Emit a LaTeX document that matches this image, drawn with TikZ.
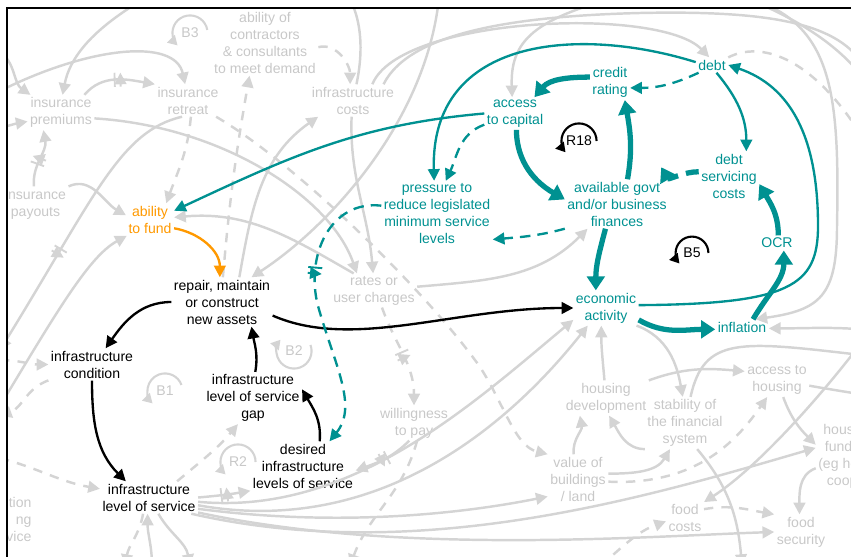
\documentclass[tikz,border=0pt]{standalone}
\usepackage{fontspec}
\setmainfont{Liberation Sans}
\usetikzlibrary{arrows.meta,calc,decorations.markings}

\definecolor{cldteal}{RGB}{0,145,145}
\definecolor{cldorange}{RGB}{255,153,0}
\definecolor{cldgrey}{RGB}{212,212,212}
\definecolor{cldgreytext}{RGB}{200,200,200}

\tikzset{
  every node/.style={font=\fontsize{12}{14.5}\selectfont, align=center, inner sep=2pt},
  var/.style={text=black},
  tvar/.style={text=cldteal},
  fvar/.style={text=cldorange},
  gvar/.style={text=cldgreytext},
  glink/.style={draw=cldgrey, line width=2.1pt, -{Triangle[length=10pt,width=10pt]}},
  gdash/.style={glink, dash pattern=on 8pt off 7pt},
  blink/.style={draw=black, line width=2pt, -{Triangle[length=10pt,width=10pt]}},
  flink/.style={draw=cldorange, line width=2pt, -{Triangle[length=10pt,width=10pt]}},
  tlink/.style={draw=cldteal, line width=2pt, -{Triangle[length=10pt,width=10pt]}},
  tdash/.style={tlink, dash pattern=on 9pt off 6pt},
  tthick/.style={draw=cldteal, line width=4.5pt, -{Triangle[length=12pt,width=15pt]}},
  tthickdash/.style={tthick, dash pattern=on 11pt off 7pt},
  gdelay/.style={postaction={decorate, decoration={markings, mark=at position #1 with
      {\draw[cldgrey, solid, line width=1.6pt] (-2.5pt,-6pt) -- (-2.5pt,6pt) (2.5pt,-6pt) -- (2.5pt,6pt);}}}},
  gdelay/.default=0.5,
  tdelay/.style={postaction={decorate, decoration={markings, mark=at position #1 with
      {\draw[cldteal, solid, line width=1.6pt] (-2.5pt,-6pt) -- (-2.5pt,6pt) (2.5pt,-6pt) -- (2.5pt,6pt);}}}},
  tdelay/.default=0.5,
  bloop/.style={draw=black, line width=1.8pt, -{Triangle[length=8pt,width=9pt]}},
  gloop/.style={draw=cldgrey, line width=1.8pt, -{Triangle[length=8pt,width=9pt]}},
}

\begin{document}
\begin{tikzpicture}[x=0.03cm,y=0.03cm]
\useasboundingbox (0,0) rectangle (851,556);

% free ends off the frame
\coordinate (nw1) at (0,505);
\coordinate (nw2) at (0,465);
\coordinate (w1) at (0,428);
\coordinate (w2) at (0,206);
\coordinate (w3) at (0,150);
\coordinate (w4) at (0,196);
\coordinate (w5) at (0,140);
\coordinate (w6) at (0,98);
\coordinate (n1) at (440,570);
\coordinate (n2) at (640,565);
\coordinate (n3) at (720,565);
\coordinate (n4) at (700,575);
\coordinate (e1) at (870,200);
\coordinate (e2) at (870,226);
\coordinate (e3) at (870,160);
\coordinate (e4) at (870,225);
\coordinate (e5) at (870,480);
\coordinate (e6) at (870,470);
\coordinate (e7) at (865,415);
\coordinate (s1) at (350,-10);
\coordinate (s2) at (600,-10);
\coordinate (s3) at (742,-10);
\coordinate (s4) at (190,-10);
\coordinate (s5) at (152,-10);
\coordinate (s6) at (125,-10);

% main loop variables
\node[var] (repair) at (222,254) {repair, maintain\\or construct\\new assets};
\node[var] (cond) at (92,191.5) {infrastructure\\condition};
\node[var] (gap) at (253,158) {infrastructure\\level of service\\gap};
\node[var] (desired) at (303,90) {desired\\infrastructure\\levels of service};
\node[var] (los) at (149,58.5) {infrastructure\\level of service};
\node[fvar] (fund) at (150,336.5) {ability\\to fund};

% finance variables
\node[tvar] (access) at (515,442.5) {access\\to capital};
\node[tvar] (credit) at (610,473.5) {credit\\rating};
\node[tvar] (debt) at (712,491) {debt};
\node[tvar] (servicing) at (729,380) {debt\\servicing\\costs};
\node[tvar] (finances) at (617,352) {available govt\\and/or business\\finances};
\node[tvar] (ocr) at (777,313) {OCR};
\node[tvar] (pressure) at (437,342.5) {pressure to\\reduce legislated\\minimum service\\levels};
\node[tvar] (economy) at (606,248) {economic\\activity};
\node[tvar] (inflation) at (742,229) {inflation};

\begin{scope}
\clip (7,-20) rectangle (880,548);
% background variables
\node[gvar] (topcut) at (53,553) {infrastructure};
\node[gvar] (contractors) at (265,513.5) {ability of\\contractors\\\& consultants\\to meet demand};
\node[gvar] (premiums) at (61,443.5) {insurance\\premiums};
\node[gvar] (retreat) at (188,455.5) {insurance\\retreat};
\node[gvar] (costs) at (353,455.5) {infrastructure\\costs};
\node[gvar] (payouts) at (35.5,352) {insurance\\payouts};
\node[gvar] (rates) at (374,265.5) {rates or\\user charges};
\node[gvar] (willing) at (414,133) {willingness\\to pay};
\node[gvar] (housedev) at (606,158) {housing\\development};
\node[gvar] (stability) at (685,133) {stability of\\the financial\\system};
\node[gvar] (housing) at (777,176) {access to\\housing};
\node[gvar] (value) at (578,77) {value of\\buildings\\/ land};
\node[gvar] (foodcost) at (685,38) {food\\costs};
\node[gvar] (foodsec) at (801,24) {food\\security};
\node[gvar] (funding) at (848,99.5) {housing\\funding\\(eg home\\coops)};
\node[gvar, align=right, anchor=east] (leftcut) at (34,37) {tion\\ng\\vice};

% loop labels in the background
\node[gvar] (b3) at (190,523) {B3};
\draw[gloop] ([shift={(10:15pt)}]b3.center) arc[start angle=10, end angle=225, radius=15pt];
\node[gvar] (b2) at (294,205) {B2};
\draw[gloop] ([shift={(20:15pt)}]b2.center) arc[start angle=20, end angle=-220, radius=15pt];
\node[gvar] (b1) at (165,165) {B1};
\draw[gloop] ([shift={(20:15pt)}]b1.center) arc[start angle=20, end angle=225, radius=15pt];
\node[gvar] (r2) at (238,94) {R2};
\draw[gloop] ([shift={(0:15pt)}]r2.center) arc[start angle=0, end angle=225, radius=15pt];

% insurance
\draw[glink] (nw1) to[out=-40,in=145] (premiums.150);
\draw[glink] (nw2) .. controls (90,510) and (175,518) .. (retreat.100);
\draw[glink] (costs.78) .. controls (372,545) and (345,610) .. (240,605) .. controls (150,565) and (75,525) .. (premiums.85);
\draw[glink, gdelay] (premiums.37) to[out=50,in=170] (retreat.north west);
\draw[glink, gdelay=0.45] (payouts.95) to[out=95,in=-80] (premiums.-135);
\draw[glink] (w1) to[out=15,in=190] (premiums.195);
\draw[glink] (premiums.-10) .. controls (220,430) and (330,360) .. (rates.135);
\draw[glink, gdelay=0.62] (retreat.-110) .. controls (120,425) and (95,360) .. (w2);
\draw[gdash] (retreat.-80) to[out=-95,in=70] (fund.45);
\draw[gdash] (retreat.-30) .. controls (300,390) and (430,260) .. (480,189) .. controls (505,150) and (515,110) .. (value.north west);

% costs and contractors
\draw[gdash] (repair.88) to[out=85,in=-100] (contractors.-115);
\draw[gdash] (contractors.-5) to[out=15,in=90] (costs.100);
\draw[glink] (repair.55) to[out=80,in=215] (costs.-155);
\draw[glink] (costs.-95) to[out=-92,in=95] (rates.93);
\draw[glink] (n1) .. controls (432,440) and (330,330) .. (repair.40);
\draw[glink] (costs.40) .. controls (400,540) and (660,550) .. (debt.110);
\draw[glink] (costs.28) .. controls (410,525) and (520,540) .. (640,543) .. controls (780,546) and (840,530) .. (e5);
\draw[glink] (n2) .. controls (540,540) and (510,520) .. (access.100);
\draw[glink] (n4) .. controls (780,548) and (830,520) .. (e6);
\draw[gdash] (debt.25) .. controls (760,515) and (810,500) .. (e7);
\draw[glink] (n3) .. controls (830,545) and (840,480) .. (837,330) .. controls (837,260) and (820,246) .. (inflation.30);

% rates and willingness to pay
\draw[glink] (rates.5) to[out=5,in=-135] (finances.-140);
\draw[gdash, gdelay] (rates.-65) to[out=-70,in=90] (willing.90);
\draw[glink, gdelay] (willing.-105) to[out=-135,in=20] (desired.-5);
\draw[gdash] (willing.-80) to[out=-105,in=70] (s1);
\draw[glink] (rates.140) to[out=150,in=5] (fund.5);
\draw[glink] (payouts.north east) to[out=25,in=150] (fund.170);
\draw[glink] (w3) .. controls (60,250) and (90,300) .. (fund.-145);

% condition and level of service
\draw[gdash] (w4) to[out=0,in=180] (cond.west);
\draw[gdash] (cond.-160) to[out=200,in=20] (w5);
\draw[gdash] (w6) to[out=-15,in=170] (los.170);
\draw[glink, gdelay] (los.0) to[out=5,in=190] (desired.south west);
\draw[gdash] (los.30) to[out=40,in=-130] (gap.-120);
\draw[glink] (los.-5) .. controls (350,40) and (470,150) .. (economy.-160);
\draw[glink] (los.-9) .. controls (370,20) and (500,120) .. (economy.-136);
\draw[glink] (los.-13) .. controls (330,30) and (450,40) .. (value.-150);
\draw[glink] (los.-17) .. controls (400,0) and (650,20) .. (foodsec.180);
\draw[glink] (los.-21) .. controls (420,-10) and (650,60) .. (funding.165);
\draw[glink] (los.-60) to[out=-60,in=100] (s4);
\draw[glink] (s5) to[out=90,in=-90] (los.-95);
\draw[gdash] (los.-110) to[out=-100,in=80] (s6);

% housing and finance
\draw[glink] (value.100) to[out=95,in=-80] (housedev.-146);
\draw[glink] (stability.south west) to[out=180,in=-60] (housedev.-80);
\draw[glink] (value.10) to[out=0,in=-120] (stability.-120);
\draw[gdash] (value.-5) .. controls (700,70) and (740,120) .. (housing.-120);
\draw[glink] (housedev.95) to[out=95,in=-90] (economy.-105);
\draw[glink] (economy.-30) to[out=-20,in=100] (stability.95);
\draw[glink] (housedev.north east) to[out=20,in=175] (housing.165);
\draw[glink] (stability.78) .. controls (704,220) and (740,215) .. (e1);
\draw[glink] (e2) to[out=175,in=0] (inflation.-3);
\draw[glink] (housing.-70) to[out=-70,in=135] (funding.160);
\draw[glink] (housing.-10) to[out=-10,in=170] (e3);
\draw[glink] (funding.-160) to[out=200,in=90] (foodsec.95);
\draw[gdash] (foodcost.25) to[out=10,in=170] (foodsec.north west);
\draw[gdash] (s2) to[out=40,in=200] (foodcost.190);
\draw[glink] (stability.-65) to[out=-50,in=95] (s3);
\draw[glink] (e4) .. controls (830,170) and (760,90) .. (foodcost.40);
\end{scope}

% frame
\draw[line width=1.6pt] (7,-10) -- (7,548) -- (870,548);

% loop labels
\node (r18) at (579,415) {R18};
\draw[bloop] ([shift={(0:15pt)}]r18.center) arc[start angle=0, end angle=220, radius=15pt];
\node (b5) at (692,303) {B5};
\draw[bloop] ([shift={(0:14pt)}]b5.center) arc[start angle=0, end angle=220, radius=14pt];

% main loop
\draw[flink] (fund.-20) to[out=-10,in=90] (repair.95);
\draw[blink] (repair.west) to[out=180,in=55] (cond.50);
\draw[blink] (cond.south) to[out=-90,in=135] (los.145);
\draw[blink] (gap.85) to[out=80,in=-80] (repair.-40);
\draw[blink] (desired.56) to[out=85,in=-60] (gap.10);
\draw[blink] (repair.-15) .. controls +(80,-35) and +(-120,0) .. (economy.west);

% finance loops
\draw[tlink] (access.west) to[out=185,in=25] (fund.20);
\draw[tdash] (access.200) to[out=200,in=65] (pressure.75);
\draw[tlink] (debt.170) .. controls (580,530) and (430,520) .. (pressure.95);
\draw[tdash] (debt.-150) to[out=205,in=0] (credit.-15);
\draw[tlink] (debt.-60) to[out=-50,in=90] (servicing.55);
\draw[tlink] (economy.5) .. controls (790,252) and (818,270) .. (818,330) .. controls (818,420) and (790,470) .. (debt.east);
\draw[tthick] (credit.165) to[out=180,in=50] (access.40);
\draw[tthick] (finances.67) to[out=80,in=-80] (credit.-50);
\draw[tthickdash] (servicing.172) to[out=180,in=-60] ([shift={(-8,12)}]finances.north east);
\draw[tthick] (access.-85) to[out=-90,in=150] (finances.175);
\draw[tdash] (finances.south west) to[out=195,in=5] (pressure.-25);
\draw[tthick] (finances.-115) to[out=-105,in=90] (economy.120);
\draw[tthick] (economy.-20) to[out=-30,in=180] (inflation.185);
\draw[tthick] (inflation.35) to[out=60,in=-90] (ocr.-48);
\draw[tthick] (ocr.80) to[out=90,in=-60] (servicing.-15);
\draw[tdash, tdelay=0.37] (pressure.172) .. controls (330,356) and (305,300) .. (318,250) .. controls (335,190) and (358,150) .. (desired.43);
\end{tikzpicture}
\end{document}
